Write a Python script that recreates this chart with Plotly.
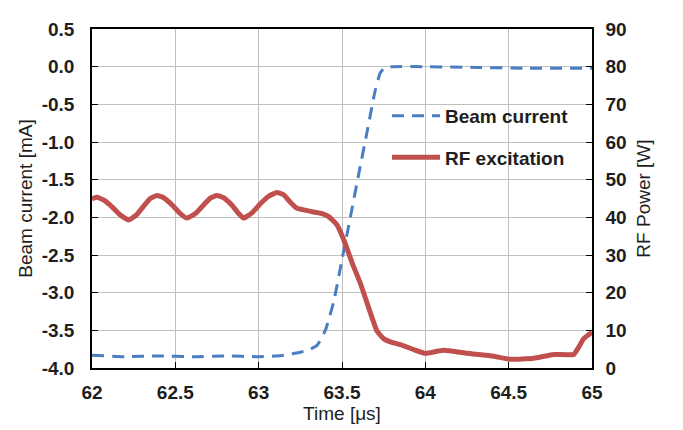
import plotly.graph_objects as go

# Beam current (left axis, mA)
t_beam = [62.0, 62.2, 62.4, 62.6, 62.8, 63.0, 63.1, 63.15, 63.2, 63.25, 63.3, 63.35, 63.4,
          63.45, 63.5, 63.55, 63.6, 63.65, 63.7, 63.73, 63.76, 63.8, 64.0, 64.3, 64.6, 65.0]
beam = [-3.83, -3.85, -3.84, -3.85, -3.84, -3.85, -3.84, -3.83, -3.81, -3.79, -3.76, -3.7, -3.5,
        -3.12, -2.56, -2.0, -1.43, -0.87, -0.31, -0.08, -0.01, 0.0, 0.0, -0.01, -0.02, -0.02]

# RF excitation (right axis, W)
t_rf = [62.0, 62.03, 62.07, 62.12, 62.17, 62.22, 62.27, 62.31, 62.35, 62.39, 62.43, 62.48,
        62.53, 62.57, 62.62, 62.67, 62.71, 62.75, 62.79, 62.84, 62.88, 62.91, 62.96, 63.01,
        63.06, 63.11, 63.15, 63.19, 63.23, 63.28, 63.33, 63.38, 63.42, 63.47, 63.52, 63.56,
        63.61, 63.67, 63.71, 63.75, 63.8, 63.85, 63.93, 64.0, 64.11, 64.25, 64.41, 64.51,
        64.65, 64.77, 64.89, 64.92, 64.95, 65.0]
rf = [44.9, 45.3, 44.6, 42.8, 40.6, 39.3, 40.8, 43.0, 45.0, 45.8, 45.2, 43.3,
      41.0, 39.8, 41.0, 43.3, 45.1, 45.8, 45.2, 43.2, 41.0, 39.8, 41.2, 43.6,
      45.6, 46.6, 46.0, 44.0, 42.4, 41.9, 41.4, 41.0, 40.2, 38.0, 33.0, 28.0,
      22.5, 14.7, 9.8, 7.8, 6.8, 6.2, 4.9, 3.9, 4.7, 3.9, 3.1, 2.3,
      2.6, 3.6, 3.6, 5.5, 7.8, 9.5]

x_ticks = [62, 62.5, 63, 63.5, 64, 64.5, 65]
y_left_ticks = [0.5, 0.0, -0.5, -1.0, -1.5, -2.0, -2.5, -3.0, -3.5, -4.0]
y_right_ticks = [0, 10, 20, 30, 40, 50, 60, 70, 80, 90]

blue = "#4A7EC2"
red = "#C0504D"
font_family = "Liberation Sans, Arial, sans-serif"
tick_font = dict(family=font_family, size=19, color="#1E1E1E", weight="bold")
title_font = dict(family=font_family, size=19, color="#1E1E1E")

fig = go.Figure()
fig.add_trace(go.Scatter(x=t_beam, y=beam, name="Beam current", mode="lines",
                         legendgroup="a",
                         line=dict(color=blue, width=3, dash="12px,8px", shape="spline", smoothing=0.5),
                         yaxis="y"))
fig.add_trace(go.Scatter(x=t_rf, y=rf, name="RF excitation", mode="lines",
                         legendgroup="b",
                         line=dict(color=red, width=5, shape="spline", smoothing=0.4),
                         yaxis="y2"))

fig.update_layout(
    width=675, height=422,
    margin=dict(l=84, r=91, t=11, b=62),
    paper_bgcolor="white", plot_bgcolor="white",
    showlegend=True,
    legend=dict(x=0.59, y=0.80, xanchor="left", yanchor="top",
                bgcolor="rgba(0,0,0,0)",
                font=dict(family=font_family, size=19, color="#1E1E1E", weight="bold"),
                tracegroupgap=14, itemwidth=48),
    xaxis=dict(range=[62, 65], tickvals=x_ticks, ticktext=[str(v) for v in x_ticks],
               showgrid=True, gridcolor="#BFBFBF", gridwidth=1,
               showline=True, linecolor="black", linewidth=1.5, mirror=True,
               ticks="inside", ticklen=6, tickcolor="black",
               tickfont=tick_font, ticklabelstandoff=6,
               title=dict(text="Time [μs]", font=title_font, standoff=2),
               zeroline=False),
    yaxis=dict(range=[-4, 0.5], tickvals=y_left_ticks,
               ticktext=["%.1f" % v for v in y_left_ticks],
               showgrid=True, gridcolor="#BFBFBF", gridwidth=1,
               showline=True, linecolor="black", linewidth=1.5, mirror=True,
               ticks="inside", ticklen=6, tickcolor="black",
               tickfont=tick_font, ticklabelstandoff=12,
               title=dict(text="Beam current [mA]", font=title_font, standoff=4),
               zeroline=False),
    yaxis2=dict(range=[0, 90], tickvals=y_right_ticks, ticktext=[str(v) for v in y_right_ticks],
                overlaying="y", side="right",
                showgrid=False, showline=True, linecolor="black", linewidth=1.5,
                ticks="inside", ticklen=6, tickcolor="black",
                tickfont=tick_font, ticklabelstandoff=8,
                title=dict(text="RF Power [W]", font=title_font, standoff=11),
                zeroline=False),
)

fig.write_html("out.html")
